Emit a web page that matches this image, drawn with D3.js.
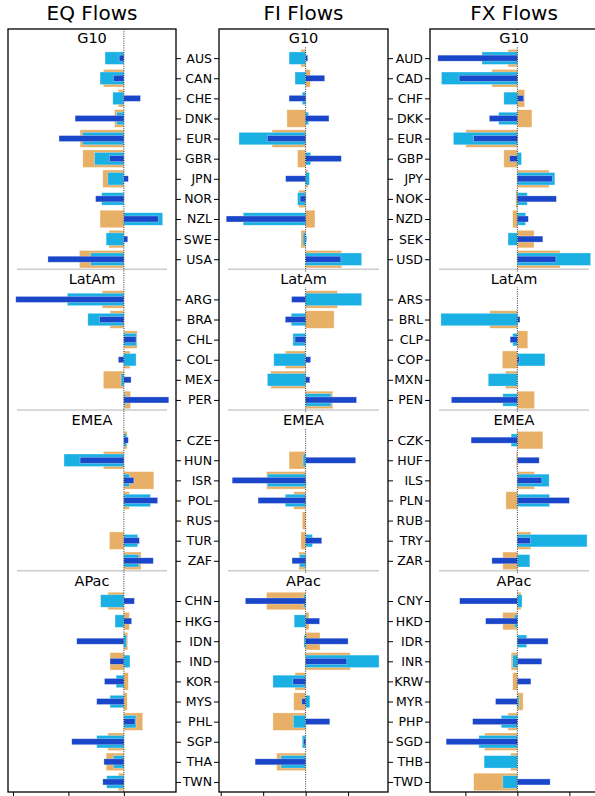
<!DOCTYPE html>
<html>
<head>
<meta charset="utf-8">
<script src="https://cdn.jsdelivr.net/npm/d3@7"></script>
<style>
  body { margin: 0; background: #fff; }
  text { font-family: "DejaVu Sans", sans-serif; fill: #000; }
  .tick line { stroke: #000; stroke-width: 1; }
</style>
</head>
<body>
<div id="chart"></div>
<script>
var wd = 595;
var ht = 796;

// groups and their members (same order in all three panels)
var groups = ["G10", "LatAm", "EMEA", "APac"];
var groupSizes = [11, 6, 7, 10];

var eqNames = ["AUS","CAN","CHE","DNK","EUR","GBR","JPN","NOR","NZL","SWE","USA",
               "ARG","BRA","CHL","COL","MEX","PER",
               "CZE","HUN","ISR","POL","RUS","TUR","ZAF",
               "CHN","HKG","IDN","IND","KOR","MYS","PHL","SGP","THA","TWN"];
var fxNames = ["AUD","CAD","CHF","DKK","EUR","GBP","JPY","NOK","NZD","SEK","USD",
               "ARS","BRL","CLP","COP","MXN","PEN",
               "CZK","HUF","ILS","PLN","RUB","TRY","ZAR",
               "CNY","HKD","IDR","INR","KRW","MYR","PHP","SGD","THB","TWD"];

// EQ flows: wide (tan), medium (light blue), narrow (dark blue)
var eqWide   = [0, -0.37, -0.10, -0.17, -0.79, -0.74, -0.38, 0, -0.43, -0.27, -0.80,
                -0.39, -0.25, 0.24, 0.11, -0.37, 0.12,
                0.06, -0.37, 0.54, 0.10, 0, -0.26, 0.31,
                -0.29, 0.10, 0.07, -0.25, 0.08, 0.06, 0.34, -0.29, -0.32, -0.10];
var eqMid    = [-0.34, -0.43, -0.20, -0.13, -0.75, -0.53, -0.29, -0.40, 0.70, -0.32, -0.60,
                -1.02, -0.65, 0.23, 0.22, -0.05, 0.03,
                0.05, -1.08, 0.10, 0.48, 0, 0.25, 0.27,
                -0.42, -0.16, 0.05, 0.11, -0.14, -0.25, 0.22, -0.49, -0.19, -0.31];
var eqNarrow = [-0.085, -0.19, 0.30, -0.88, -1.17, -0.26, 0.08, -0.51, 0.62, 0.07, -1.37,
                -1.95, -0.44, 0.22, -0.10, 0.13, 0.81,
                0.08, -0.79, 0.18, 0.61, 0, 0.28, 0.53,
                0.19, 0.14, -0.85, -0.25, -0.35, -0.49, 0.20, -0.94, -0.36, -0.38];

// FI flows
var fiWide   = [-0.11, 0.11, 0, -0.44, -0.79, -0.19, 0.06, -0.16, 0.22, -0.11, 0.85,
                0.75, 0.67, 0, -0.48, -0.82, 0.64,
                0, -0.39, -0.92, -0.28, -0.08, -0.11, -0.16,
                -0.92, 0.08, 0.34, 1.05, -0.25, -0.28, -0.77, 0, -0.68, 0];
var fiMid    = [-0.39, -0.25, -0.08, 0.07, -1.57, 0.12, 0.09, -0.19, -1.47, -0.06, 1.32,
                1.32, -0.34, -0.30, -0.75, -0.90, 0.60,
                0, -0.06, -0.90, -0.48, 0, 0.16, -0.14,
                -0.05, -0.27, -0.04, 1.73, -0.77, 0.10, -0.29, -0.08, -0.58, 0];
var fiNarrow = [0.05, 0.45, -0.39, 0.55, -0.90, 0.84, -0.47, -0.13, -1.87, 0.02, 0.83,
                -0.33, -0.48, -0.25, 0.12, 0.10, 1.20,
                0, 1.18, -1.73, -1.12, 0, 0.38, -0.32,
                -1.42, 0.33, 1.00, 0.97, -0.30, -0.09, 0.57, -0.05, -1.19, 0];

// FX flows
var fxWide   = [-0.18, -0.49, 0.14, 0.28, -0.99, -0.26, 0.61, -0.03, -0.09, 0.32, 0.82,
                0, -0.53, 0.20, -0.29, -0.23, 0.33,
                0.49, -0.02, 0.33, -0.22, 0, 0.26, -0.28,
                0.07, -0.28, 0, -0.12, -0.09, 0.11, -0.18, -0.63, -0.13, -0.84];
var fxMid    = [-0.68, -1.46, -0.26, -0.36, -1.23, 0.08, 0.72, 0.19, 0.16, -0.18, 1.41,
                0, -1.47, -0.09, 0.53, -0.56, -0.28,
                -0.12, 0, 0.61, 0.62, 0, 1.34, 0.24,
                0.09, -0.06, 0.18, -0.09, 0, 0.03, -0.31, -0.74, -0.64, -0.28];
var fxNarrow = [-1.53, -1.12, 0.12, -0.54, -0.84, -0.15, 0.67, 0.75, 0.21, 0.49, 0.74,
                0, 0.05, -0.14, 0.04, 0, -1.27,
                -0.89, 0.42, 0.47, 1.00, 0, 0.25, -0.49,
                -1.11, -0.61, 0.59, 0.47, 0.26, -0.42, -0.86, -1.37, 0, 0.63];

var xTicksEQ = [-2, -1, 0];
var xTicksFI = [-2, -1, 0, 1];
var xTicksFX = [-1, 0, 1];

var colWide = "#e8b066";
var colMid = "#1ab0e4";
var colNarrow = "#1a46c9";

var svg = d3.select("#chart").append("svg").attr("width", wd).attr("height", ht);

// slot positions: each group gets one slot for its label, then its members
var slots = [], labelSlots = [], sepSlots = [];
var s = -1;
groups.forEach(function(g, gi) {
  labelSlots.push(s);
  if (gi > 0) sepSlots.push(s - 0.5);
  s++;
  for (var i = 0; i < groupSizes[gi]; i++) { slots.push(s); s++; }
});

var yTop = 29, yBottom = 792;
var yScale = d3.scaleLinear().domain([-1.45, 36.5]).range([yTop, yBottom]);
var step = yScale(1) - yScale(0);

var panels = [
  { title: "EQ Flows", x0: 8,   x1: 176, domain: [-2.09, 0.94], ticks: xTicksEQ, series: [eqWide, eqMid, eqNarrow] },
  { title: "FI Flows", x0: 219, x1: 388, domain: [-2.04, 1.94], ticks: xTicksFI, series: [fiWide, fiMid, fiNarrow] },
  { title: "FX Flows", x0: 430, x1: 598, domain: [-1.68, 1.55], ticks: xTicksFX, series: [fxWide, fxMid, fxNarrow] }
];
var cols = [colWide, colMid, colNarrow];
var fracs = [0.87, 0.62, 0.3];

panels.forEach(function(p, pi) {
  var xScale = d3.scaleLinear().domain(p.domain).range([p.x0, p.x1]);
  var g = svg.append("g").attr("class", "panel");

  // group separators
  g.selectAll("line.sep").data(sepSlots).enter().append("line")
    .attr("class", "sep")
    .attr("x1", p.x0 + 9).attr("x2", p.x1 - 9)
    .attr("y1", function(d) { return yScale(d); }).attr("y2", function(d) { return yScale(d); })
    .attr("stroke", "#cccccc").attr("stroke-width", 1.5);

  // bars
  p.series.forEach(function(vals, si) {
    var h = step * fracs[si];
    g.selectAll("rect.s" + si).data(vals).enter().append("rect")
      .attr("class", "s" + si)
      .attr("x", function(d) { return xScale(Math.min(0, d)); })
      .attr("width", function(d) { return Math.abs(xScale(d) - xScale(0)); })
      .attr("y", function(d, i) { return yScale(slots[i]) - h / 2; })
      .attr("height", h)
      .attr("fill", cols[si])
      .attr("stroke", "#ffffff").attr("stroke-width", 0.6).attr("stroke-opacity", 0.5);
  });

  // zero line
  g.append("line")
    .attr("x1", xScale(0)).attr("x2", xScale(0))
    .attr("y1", yTop).attr("y2", yBottom)
    .attr("stroke", "#000").attr("stroke-width", 0.8).attr("stroke-dasharray", "1,1.3");

  // group labels
  labelSlots.forEach(function(ls, gi) {
    var cx = (p.x0 + p.x1) / 2;
    var lab = g.append("text")
      .attr("x", cx).attr("y", yScale(ls) + 5)
      .attr("text-anchor", "middle")
      .style("font-size", "14.5px")
      .text(groups[gi]);
    var bb = lab.node().getBBox();
    g.insert("rect", function() { return lab.node(); })
      .attr("x", bb.x - 2).attr("y", bb.y + 1).attr("width", bb.width + 4).attr("height", bb.height - 1)
      .attr("fill", "#fff");
  });

  // frame
  g.append("rect")
    .attr("x", p.x0).attr("y", yTop).attr("width", p.x1 - p.x0).attr("height", yBottom - yTop)
    .attr("fill", "none").attr("stroke", "#000").attr("stroke-width", 1.3);

  // title
  svg.append("text")
    .attr("x", (p.x0 + p.x1) / 2).attr("y", 20)
    .attr("text-anchor", "middle")
    .style("font-size", "20px")
    .text(p.title);

  // bottom ticks
  var xAxis = d3.axisBottom(xScale).tickValues(p.ticks).tickFormat("").tickSize(4).tickSizeOuter(0);
  g.append("g").attr("transform", "translate(0," + yBottom + ")").call(xAxis)
    .call(function(a) { a.select(".domain").remove(); });

  // y ticks: right side on EQ and FI, labelled left side on FI and FX
  var names = pi == 2 ? fxNames : eqNames;
  var yMap = {};
  slots.forEach(function(sl, i) { yMap[sl] = names[i]; });
  if (pi > 0) {
    var yAxis = d3.axisLeft(yScale).tickValues(slots).tickSize(5).tickPadding(2)
      .tickFormat(function(d) { return yMap[d]; });
    g.append("g").attr("transform", "translate(" + p.x0 + ",0)").call(yAxis)
      .call(function(a) {
        a.select(".domain").remove();
        a.selectAll("text").style("font-size", "12.5px").style("font-family", "DejaVu Sans");
      });
  }
  if (pi < 2) {
    var yAxisR = d3.axisRight(yScale).tickValues(slots).tickSize(5).tickFormat("");
    g.append("g").attr("transform", "translate(" + p.x1 + ",0)").call(yAxisR)
      .call(function(a) { a.select(".domain").remove(); });
  }
});
</script>
</body>
</html>
